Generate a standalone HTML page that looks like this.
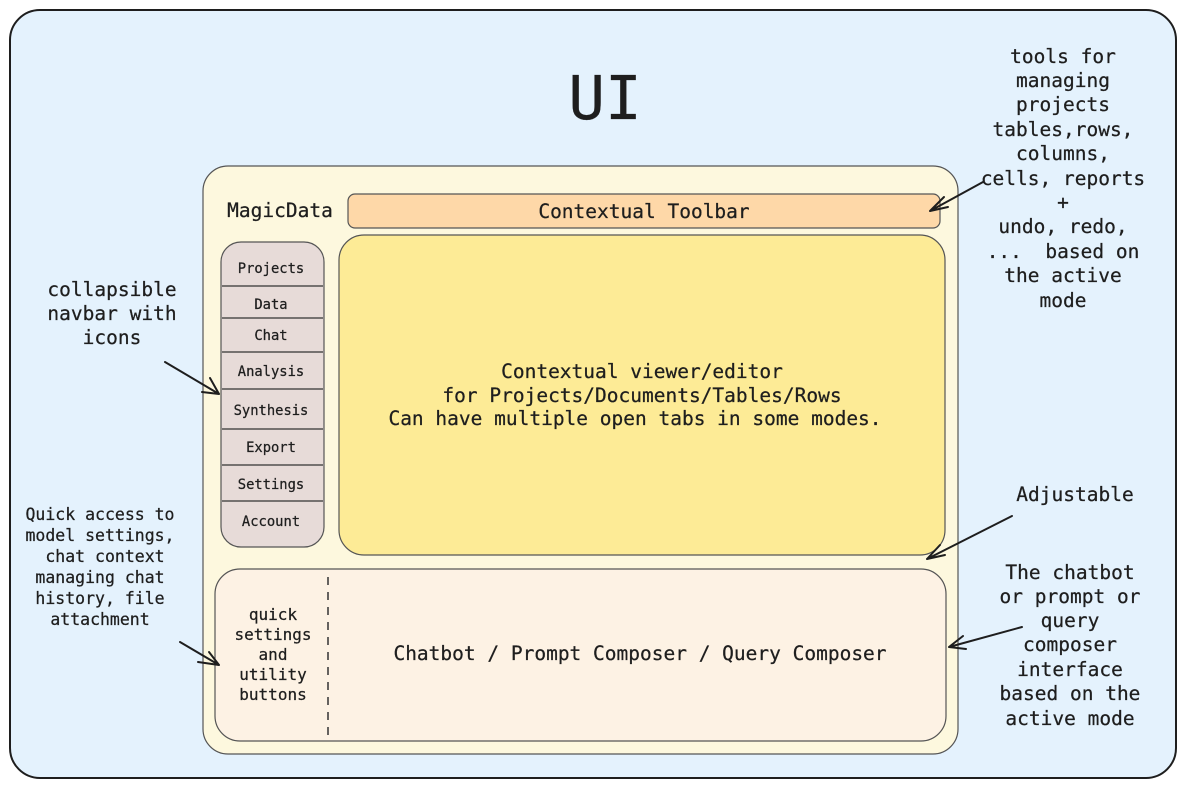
<!DOCTYPE html>
<html><head><meta charset="utf-8"><style>
html,body{margin:0;padding:0;background:#fff;}
svg{display:block;}
text{font-family:"DejaVu Sans Mono","Liberation Mono",monospace;fill:#1e1e1e;text-anchor:middle;white-space:pre;stroke:#1e1e1e;stroke-width:0.25;}
</style></head><body>
<svg width="1186" height="788" viewBox="0 0 1186 788" xmlns="http://www.w3.org/2000/svg">
<rect x="10" y="10" width="1166" height="768" rx="30" fill="#e4f2fd" stroke="#1e1e1e" stroke-width="2"/>
<text x="605" y="119" font-size="61">UI</text>
<rect x="203" y="166" width="755" height="588" rx="25" fill="#fdf8de" stroke="#555" stroke-width="1.2"/>
<text x="280" y="217" font-size="19.5">MagicData</text>
<rect x="348" y="194" width="592" height="34" rx="7" fill="#fed8a8" stroke="#555" stroke-width="1.2"/>
<text x="644" y="218" font-size="19.5">Contextual Toolbar</text>
<rect x="221" y="242" width="103" height="305" rx="20" fill="#e7dbd8" stroke="#555" stroke-width="1.2"/>
<g stroke="#333" stroke-width="1.2">
<line x1="222" y1="286" x2="323" y2="286"/><line x1="222" y1="318" x2="323" y2="318"/>
<line x1="222" y1="352" x2="323" y2="352"/><line x1="222" y1="389" x2="323" y2="389"/>
<line x1="222" y1="429" x2="323" y2="429"/><line x1="222" y1="465" x2="323" y2="465"/>
<line x1="222" y1="501" x2="323" y2="501"/></g>
<g font-size="13.8">
<text x="271" y="273">Projects</text><text x="271" y="309">Data</text><text x="271" y="340">Chat</text>
<text x="271" y="376">Analysis</text><text x="271" y="415">Synthesis</text><text x="271" y="452">Export</text>
<text x="271" y="489">Settings</text><text x="271" y="526">Account</text></g>
<rect x="339" y="235" width="606" height="320" rx="25" fill="#fdeb96" stroke="#555" stroke-width="1.2"/>
<g font-size="19.5"><text x="642" y="378">Contextual viewer/editor</text>
<text x="642" y="402">for Projects/Documents/Tables/Rows</text>
<text x="635" y="425">Can have multiple open tabs in some modes.</text></g>
<rect x="215" y="569" width="731" height="172" rx="25" fill="#fdf2e4" stroke="#555" stroke-width="1.2"/>
<line x1="328" y1="577" x2="328" y2="735" stroke="#333" stroke-width="1.5" stroke-dasharray="8,7"/>
<g font-size="16"><text x="273" y="620">quick</text><text x="273" y="640">settings</text><text x="273" y="660">and</text><text x="273" y="680">utility</text><text x="273" y="700">buttons</text></g>
<text x="640" y="660" font-size="19.5">Chatbot / Prompt Composer / Query Composer</text>
<g font-size="19.5">
<text x="1063" y="63">tools for</text><text x="1063" y="87">managing</text><text x="1063" y="111">projects</text>
<text x="1063" y="136">tables,rows,</text><text x="1063" y="160">columns,</text><text x="1063" y="185">cells, reports</text>
<text x="1063" y="209">+</text><text x="1063" y="233">undo, redo,</text><text x="1063" y="258">...  based on</text>
<text x="1063" y="282">the active</text><text x="1063" y="307">mode</text>
<text x="112" y="296">collapsible</text><text x="112" y="320">navbar with</text><text x="112" y="344">icons</text>
<text x="1075" y="501">Adjustable</text>
<text x="1070" y="579">The chatbot</text><text x="1070" y="603">or prompt or</text><text x="1070" y="627">query</text>
<text x="1070" y="651">composer</text><text x="1070" y="676">interface</text><text x="1070" y="700">based on the</text><text x="1070" y="725">active mode</text>
</g>
<g font-size="16.5">
<text x="100" y="520">Quick access to</text><text x="100" y="541">model settings,</text><text x="100" y="562"> chat context</text>
<text x="100" y="583">managing chat</text><text x="100" y="604">history, file</text><text x="100" y="625">attachment</text></g>
<g stroke="#1e1e1e" stroke-width="2" fill="none" stroke-linecap="round">
<path d="M983 182 L930 211 M930 211 L944 197 M930 211 L948 207"/>
<path d="M165 362 L219 394 M219 394 L210 378 M219 394 L202 392"/>
<path d="M1012 516 L927 559 M927 559 L940 545 M927 559 L945 555"/>
<path d="M1022 627 L949 647 M949 647 L963 636 M949 647 L966 649"/>
<path d="M180 642 L219 665 M219 665 L209 652 M219 665 L198 662"/>
</g>
</svg>
</body></html>
